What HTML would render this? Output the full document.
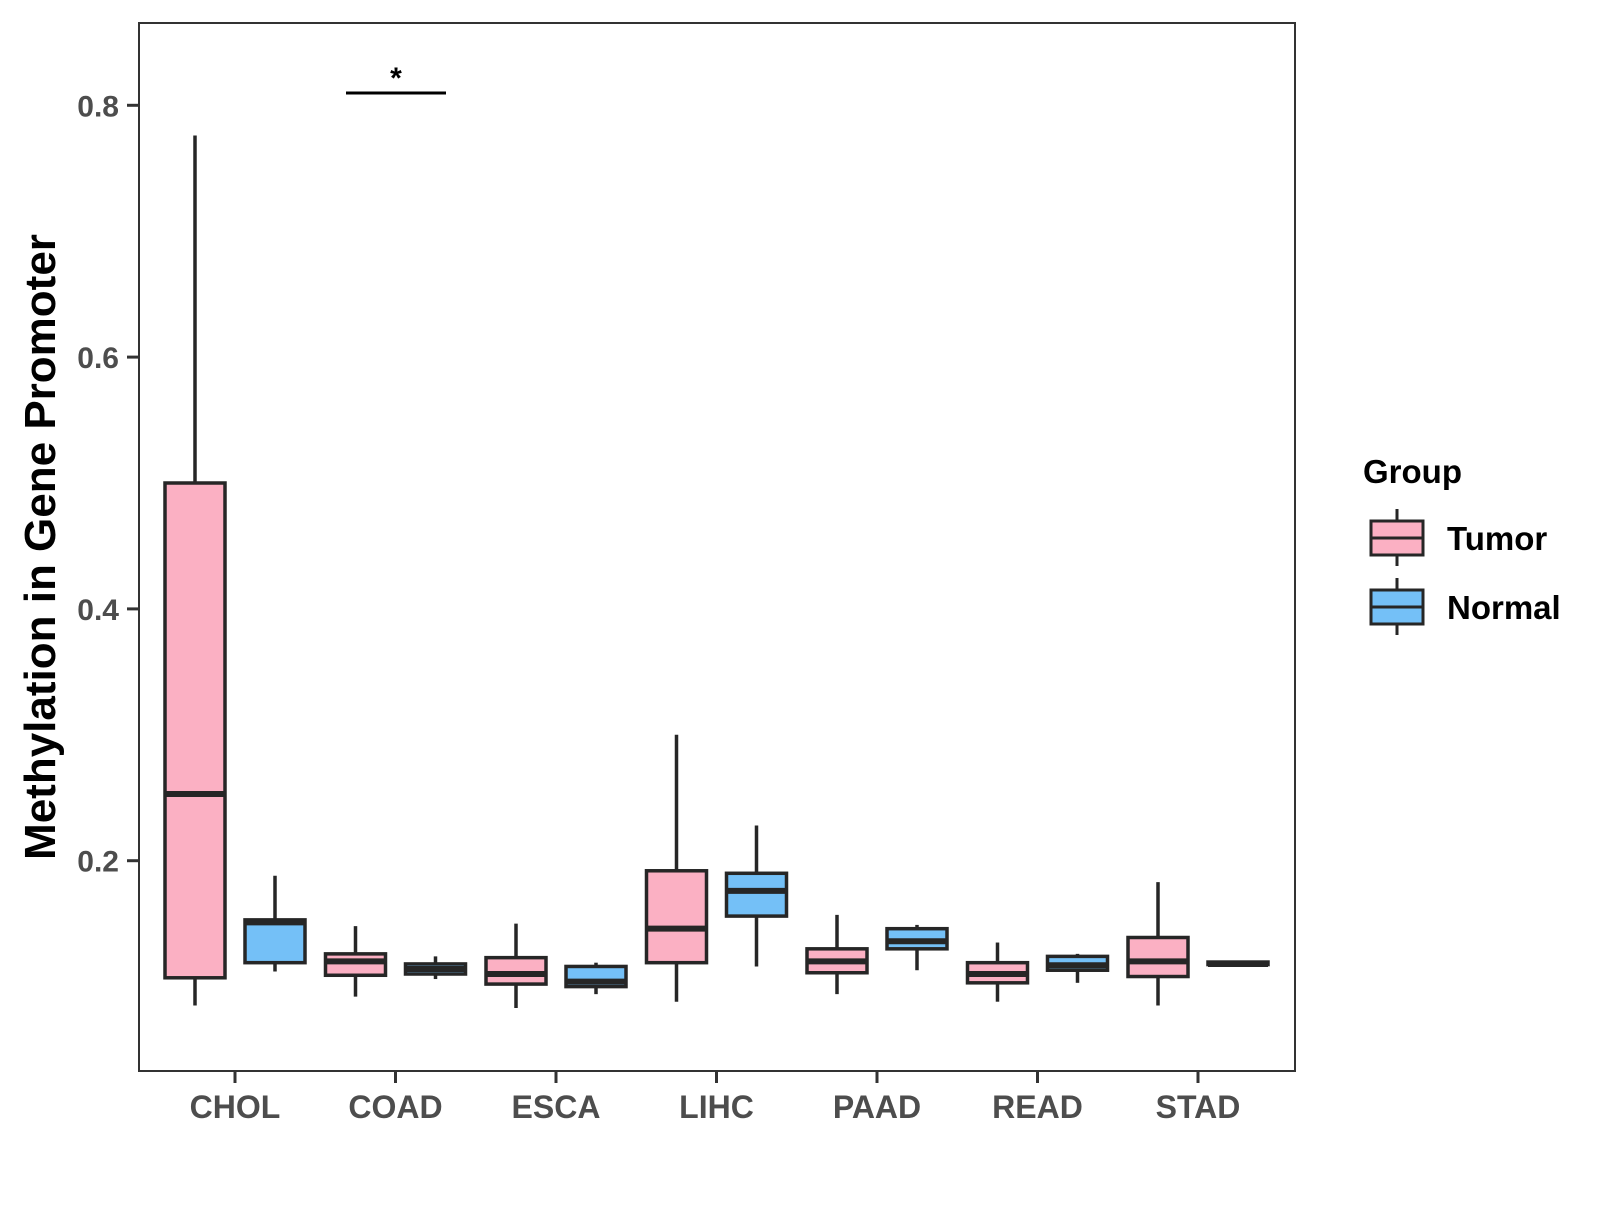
<!DOCTYPE html>
<html><head><meta charset="utf-8"><style>
body{margin:0;background:#fff;}
svg text{font-family:"Liberation Sans",Arial,sans-serif;font-weight:bold;}
</style></head><body>
<svg id="chart" width="1600" height="1200" viewBox="0 0 1600 1200" xmlns="http://www.w3.org/2000/svg">
<rect x="139" y="23" width="1156" height="1048" fill="#fff" stroke="#333" stroke-width="2"/>
<g id="marks"></g>
<g id="axes"></g>
<text transform="translate(55,547) rotate(-90)" text-anchor="middle" font-size="44" fill="#000">Methylation in Gene Promoter</text>
<g>
<line x1="346" y1="93" x2="446" y2="93" stroke="#000" stroke-width="3"/>
<text x="396" y="88" text-anchor="middle" font-size="30" fill="#000">*</text>
</g>
<g>
<text x="1363" y="483" font-size="33" fill="#000">Group</text>
<g>
<line x1="1397" y1="509" x2="1397" y2="566" stroke="#262626" stroke-width="3"/>
<rect x="1371" y="521" width="52" height="34" fill="#FBB0C3" stroke="#262626" stroke-width="3"/>
<line x1="1371" y1="538" x2="1423" y2="538" stroke="#262626" stroke-width="3"/>
<text x="1447" y="550" font-size="33" fill="#000">Tumor</text>
</g>
<g>
<line x1="1397" y1="578" x2="1397" y2="635" stroke="#262626" stroke-width="3"/>
<rect x="1371" y="590" width="52" height="34" fill="#74C0F7" stroke="#262626" stroke-width="3"/>
<line x1="1371" y1="607" x2="1423" y2="607" stroke="#262626" stroke-width="3"/>
<text x="1447" y="619" font-size="33" fill="#000">Normal</text>
</g>
</g>
</svg>
<script>
const categories=["CHOL","COAD","ESCA","LIHC","PAAD","READ","STAD"];
const tumorMin=[0.085,0.092,0.083,0.088,0.094,0.088,0.085];
const tumorQ1=[0.107,0.109,0.102,0.119,0.111,0.103,0.108];
const tumorMed=[0.253,0.120,0.110,0.146,0.120,0.110,0.120];
const tumorQ3=[0.500,0.126,0.123,0.192,0.130,0.119,0.139];
const tumorMax=[0.776,0.148,0.150,0.300,0.157,0.135,0.183];
const normalMin=[0.112,0.106,0.094,0.116,0.113,0.103,0.117];
const normalQ1=[0.119,0.110,0.100,0.156,0.130,0.113,0.1175];
const normalMed=[0.151,0.114,0.104,0.176,0.136,0.117,0.118];
const normalQ3=[0.153,0.118,0.116,0.190,0.146,0.124,0.1195];
const normalMax=[0.188,0.124,0.119,0.228,0.149,0.126,0.120];
const yTicks=[0.2,0.4,0.6,0.8];
const NS="http://www.w3.org/2000/svg";
function yScale(v){return 860.7-(v-0.2)*1259;}
function xScale(i){return 235+i*160.5;}
function mk(tag,attrs,parent){const e=document.createElementNS(NS,tag);for(const k in attrs)e.setAttribute(k,attrs[k]);parent.appendChild(e);return e;}
const marks=document.getElementById('marks');
const axes=document.getElementById('axes');
function drawBox(i,cx,mn,q1,md,q3,mx,fill,name){
  const g=mk('g',{},marks);
  
  
  const w=60;
  mk('line',{x1:cx,x2:cx,y1:yScale(mx),y2:yScale(mn),stroke:'#262626','stroke-width':3.5},g);
  mk('rect',{x:cx-w/2,y:yScale(q3),width:w,height:Math.max(yScale(q1)-yScale(q3),0.5),fill:fill,stroke:'#262626','stroke-width':3.5},g);
  mk('line',{x1:cx-w/2,x2:cx+w/2,y1:yScale(md),y2:yScale(md),stroke:'#262626','stroke-width':6},g);
}
categories.forEach((c,i)=>{
  const x=xScale(i);
  drawBox(i,x-40,tumorMin[i],tumorQ1[i],tumorMed[i],tumorQ3[i],tumorMax[i],'#FBB0C3','box-tumor-'+c.toLowerCase());
  drawBox(i,x+40,normalMin[i],normalQ1[i],normalMed[i],normalQ3[i],normalMax[i],'#74C0F7','box-normal-'+c.toLowerCase());
  const t=mk('line',{x1:x,x2:x,y1:1071,y2:1083,stroke:'#333','stroke-width':3},axes);
  
  
  const l=mk('text',{x:x,y:1118,'text-anchor':'middle','font-size':32,fill:'#4d4d4d'},axes);
  
  
  l.textContent=c;
});
yTicks.forEach(v=>{
  const y=yScale(v);
  const t=mk('line',{x1:127,x2:139,y1:y,y2:y,stroke:'#333','stroke-width':3},axes);
  
  
  const l=mk('text',{x:119,y:y+11,'text-anchor':'end','font-size':30,fill:'#4d4d4d'},axes);
  
  
  l.textContent=v.toFixed(1);
});
</script>
</body></html>
